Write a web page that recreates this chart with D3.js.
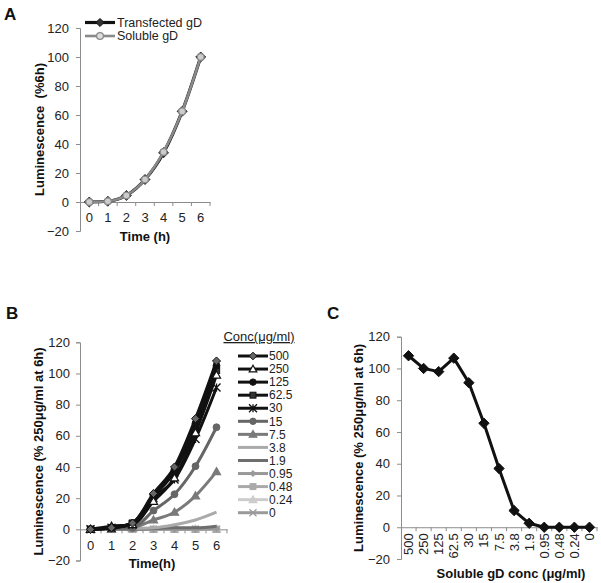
<!DOCTYPE html>
<html><head><meta charset="utf-8">
<script src="https://cdn.jsdelivr.net/npm/d3@7"></script>
<style>
body{margin:0;background:#fff;}
svg{display:block;font-family:"Liberation Sans",Arial,sans-serif;}
</style></head>
<body><svg id="c" width="601" height="583"></svg>
<script>
// ---------- DATA ----------
const timeLabels = ["0","1","2","3","4","5","6"];
const yTicks = [-20,0,20,40,60,80,100,120];

// Panel A
const aTransfected = [0, 0.5, 4.5, 15.5, 34, 62.5, 100];
const aSoluble     = [0, 0.5, 4.5, 15.5, 34.5, 62.5, 100];

// Panel B (per concentration, time 0..6 h)
const concLabels = ["500","250","125","62.5","30","15","7.5","3.8","1.9","0.95","0.48","0.24","0"];
const b500  = [0, 1, 4, 23, 40, 71, 108];
const b250  = [0, 2, 3, 18, 33, 62, 99];
const b125  = [0, 1, 4, 22, 38, 68, 105];
const b62_5 = [0, 1, 4, 21, 37, 65, 102];
const b30   = [0, 1, 3, 20, 32, 58, 91];
const b15   = [0, 0.5, 1, 12, 22.5, 40.5, 65.5];
const b7_5  = [0, 0, 1, 6, 11, 21.5, 37];
const b3_8  = [0, 0, 0.5, 1, 3, 6, 11];
const b1_9  = [0, 0, 0, 0.5, 1, 1, 2];
const b0_95 = [0, 0, 0, 0, 0, 0, 0.5];
const b0_48 = [0, 0, 0, 0, 0, 0, 0];
const b0_24 = [0, 0, 0, 0, 0, 0, 0];
const b0    = [0, 0, 0, 0, 0, 0, 0];
const bSeries = [b500,b250,b125,b62_5,b30,b15,b7_5,b3_8,b1_9,b0_95,b0_48,b0_24,b0];

// Panel C
const cValues = [108, 100, 98, 106.5, 91, 65.5, 37, 10.5, 2.5, 0, 0, 0, 0];

// ---------- STYLES ----------
const bColors = ["#111","#111","#111","#111","#111","#666","#7a7a7a","#aaa","#6e6e6e","#999","#aaa","#ccc","#9a9a9a"];
const bMarkers = ["diamond","triOpen","circle","square","star","circle","triangle",null,null,"diamondSmall","square","triangle","cross"];
const bMarkerFill = ["#666","#fff","#111","#333","#111","#666","#7a7a7a",null,null,"#999","#aaa","#ccc","#9a9a9a"];

const svg = d3.select("#c");
const AXC = "#8c8c8c";

function drawMarker(g, type, x, y, stroke, fill, size){
  size = size || 1;
  if(!type) return;
  if(type==="diamond"||type==="diamondSmall"){
    const r = (type==="diamondSmall"?3.5:4.5)*size;
    g.append("path").attr("d",`M${x},${y-r}L${x+r},${y}L${x},${y+r}L${x-r},${y}Z`).attr("fill",fill).attr("stroke",stroke).attr("stroke-width",1);
  } else if(type==="circle"){
    g.append("circle").attr("cx",x).attr("cy",y).attr("r",3.8*size).attr("fill",fill).attr("stroke",stroke);
  } else if(type==="circleOpen"){
    g.append("circle").attr("cx",x).attr("cy",y).attr("r",3.8*size).attr("fill",fill).attr("stroke",stroke).attr("stroke-width",1.3);
  } else if(type==="square"){
    const r=3.5*size;
    g.append("rect").attr("x",x-r).attr("y",y-r).attr("width",2*r).attr("height",2*r).attr("fill",fill).attr("stroke",stroke);
  } else if(type==="triangle"||type==="triOpen"){
    const r=4.5*size;
    g.append("path").attr("d",`M${x},${y-r}L${x+r},${y+r*0.75}L${x-r},${y+r*0.75}Z`).attr("fill",fill).attr("stroke",stroke).attr("stroke-width",1.2);
  } else if(type==="star"){
    const r=4;
    g.append("path").attr("d",`M${x-r},${y-r}L${x+r},${y+r}M${x-r},${y+r}L${x+r},${y-r}M${x},${y-r}L${x},${y+r}`).attr("stroke",stroke).attr("stroke-width",1.3).attr("fill","none");
  } else if(type==="cross"){
    const r=3.5;
    g.append("path").attr("d",`M${x-r},${y-r}L${x+r},${y+r}M${x-r},${y+r}L${x+r},${y-r}`).attr("stroke",stroke).attr("stroke-width",1.3).attr("fill","none");
  }
}

function panelAxes(opt){
  const g = svg.append("g");
  const x = d3.scaleBand().domain(opt.cats).range([opt.x0,opt.x1]);
  const y = d3.scaleLinear().domain([-20,120]).range([opt.yb,opt.yt]);
  const ya = g.append("g").attr("transform",`translate(${opt.x0},0)`)
    .call(d3.axisLeft(y).tickValues(yTicks).tickSize(4).tickPadding(opt.ypad||7).tickSizeOuter(4));
  ya.select(".domain").attr("stroke",AXC);
  ya.selectAll(".tick line").attr("stroke",AXC);
  ya.selectAll("text").attr("font-size",13).attr("fill","#222");
  const xa = g.append("g").attr("transform",`translate(0,${y(0)})`)
    .call(d3.axisBottom(x).tickSize(0).tickSizeOuter(0).tickPadding(opt.xpad||10));
  xa.select(".domain").attr("stroke",AXC);
  xa.selectAll("text").attr("font-size",opt.xfs||13).attr("fill","#222");
  opt.cats.forEach((c)=>{
    const bx = x(c)+x.bandwidth();
    xa.append("line").attr("x1",bx).attr("x2",bx).attr("y1",0).attr("y2",4).attr("stroke",AXC);
  });
  g.append("text").attr("transform",`translate(${opt.ytx},${(y(-20)+y(120))/2}) rotate(-90)`)
    .attr("text-anchor","middle").attr("font-size",13).attr("font-weight","bold").attr("fill","#111")
    .style("white-space","pre").text(opt.ytitle);
  g.append("text").attr("x",opt.xtx).attr("y",opt.xty).attr("text-anchor","middle")
    .attr("font-size",13).attr("font-weight","bold").attr("fill","#111").text(opt.xtitle);
  svg.append("text").attr("x",opt.lx).attr("y",opt.ly).attr("font-size",17).attr("font-weight","bold").attr("fill","#111").text(opt.letter);
  return {g,x,y,xa};
}

// ---------- PANEL A ----------
(function(){
  const P = panelAxes({cats:timeLabels,x0:80,x1:210,yb:231,yt:28,ytx:44,ytitle:"Luminescence  (%6h)",
    xtx:145,xty:241,xtitle:"Time (h)",lx:4,ly:20,letter:"A",xpad:11});
  const {g,x,y} = P;
  const cx = d => x(d)+x.bandwidth()/2;
  const line = d3.line().x((d,i)=>cx(timeLabels[i])).y(d=>y(d)).curve(d3.curveMonotoneX);
  g.append("path").datum(aTransfected).attr("d",line).attr("fill","none").attr("stroke","#111").attr("stroke-width",3.2);
  aTransfected.forEach((v,i)=>drawMarker(g,"diamond",cx(timeLabels[i]),y(v),"#222","#333",1.1));
  g.append("path").datum(aSoluble).attr("d",line).attr("fill","none").attr("stroke","#8a8a8a").attr("stroke-width",2.6);
  aSoluble.forEach((v,i)=>drawMarker(g,"circleOpen",cx(timeLabels[i]),y(v),"#8a8a8a","#ccc",0.9));
  const L = svg.append("g");
  [["Transfected gD","#111","diamond","#333",3.2],["Soluble gD","#8a8a8a","circleOpen","#ddd",2.6]].forEach((r,i)=>{
    const yy = 22.5 + i*13.5;
    L.append("line").attr("x1",85).attr("x2",115).attr("y1",yy).attr("y2",yy).attr("stroke",r[1]).attr("stroke-width",r[4]);
    drawMarker(L,r[2],100,yy,r[1],r[3],0.9);
    L.append("text").attr("x",117).attr("y",yy+4.3).attr("font-size",12.5).attr("fill","#222").text(r[0]);
  });
})();

// ---------- PANEL B ----------
(function(){
  const P = panelAxes({cats:timeLabels,x0:80,x1:227,yb:560.5,yt:342.3,ytx:43,ytitle:"Luminescence (% 250μg/ml at 6h)",
    xtx:152,xty:568,xtitle:"Time(h)",lx:6,ly:319,letter:"B",xpad:11,ypad:6});
  const {g,x,y} = P;
  const cx = d => x(d)+x.bandwidth()/2;
  const line = d3.line().x((d,i)=>cx(timeLabels[i])).y(d=>y(d)).curve(d3.curveMonotoneX);
  for(let k=bSeries.length-1;k>=0;k--){
    g.append("path").datum(bSeries[k]).attr("d",line).attr("fill","none").attr("stroke",bColors[k]).attr("stroke-width",3);
    bSeries[k].forEach((v,i)=>drawMarker(g,bMarkers[k],cx(timeLabels[i]),y(v),bColors[k],bMarkerFill[k],0.9));
  }
  const L = svg.append("g");
  L.append("text").attr("x",259).attr("y",341).attr("text-anchor","middle").attr("font-size",13).attr("fill","#222")
    .attr("text-decoration","underline").text("Conc(μg/ml)");
  concLabels.forEach((c,k)=>{
    const yy = 356 + k*13.06;
    L.append("line").attr("x1",238).attr("x2",268).attr("y1",yy).attr("y2",yy).attr("stroke",bColors[k]).attr("stroke-width",3);
    drawMarker(L,bMarkers[k],253,yy,bColors[k],bMarkerFill[k],0.85);
    L.append("text").attr("x",269).attr("y",yy+4.2).attr("font-size",12).attr("fill","#222").text(c);
  });
})();

// ---------- PANEL C ----------
(function(){
  const P = panelAxes({cats:concLabels,x0:401,x1:597,yb:559,yt:336.7,ytx:363,ytitle:"Luminescence (% 250μg/ml at 6h)",
    xtx:511,xty:578,xtitle:"Soluble gD conc (μg/ml)",lx:327,ly:319,letter:"C",xpad:8});
  const {g,x,y,xa} = P;
  xa.selectAll(".tick text").attr("transform","rotate(-90)").attr("text-anchor","end")
    .attr("x",-6).attr("y",0).attr("dy","0.35em");
  const cx = d => x(d)+x.bandwidth()/2;
  const line = d3.line().x((d,i)=>cx(concLabels[i])).y(d=>y(d));
  g.append("path").datum(cValues).attr("d",line).attr("fill","none").attr("stroke","#111").attr("stroke-width",3);
  cValues.forEach((v,i)=>drawMarker(g,"diamond",cx(concLabels[i]),y(v),"#111","#111",1.15));
})();
</script></body></html>
